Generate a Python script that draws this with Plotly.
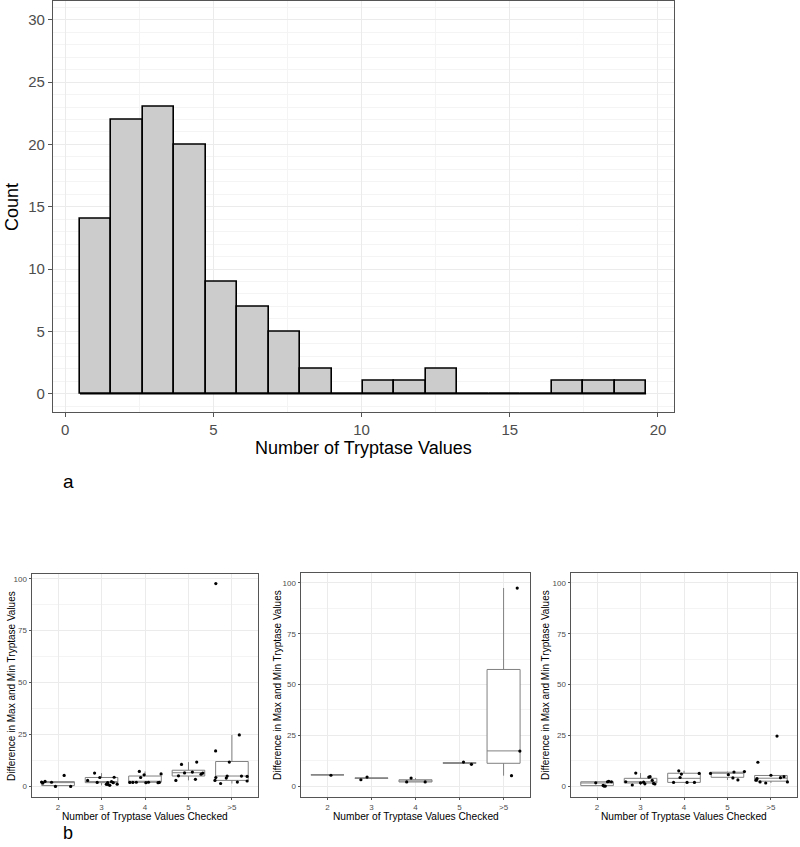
import plotly.graph_objects as go

# ---------------- data: panel a (histogram) ----------------
hist_counts = [14, 22, 23, 20, 9, 7, 5, 2, 0, 1, 1, 2, 0, 0, 0, 1, 1, 1]
hist_start = 0.5
hist_binwidth = 1.061

# ---------------- data: panel b ----------------
categories = ["2", "3", "4", "5", ">5"]
y_ticks_b = [0, 25, 50, 75, 100]

# left panel
p1_cat = [0]*7 + [1]*12 + [2]*11 + [3]*9 + [4]*13
p1_jit = [-0.38, -0.35, -0.30, -0.15, -0.06, 0.14, 0.29,
          -0.32, -0.16, -0.10, -0.04, 0.11, 0.14, 0.16, 0.19, 0.23, 0.27, 0.29, 0.36,
          -0.35, -0.28, -0.20, -0.13, -0.10, -0.02, 0.02, 0.08, 0.30, 0.33, 0.37,
          -0.29, -0.23, -0.16, -0.09, 0.09, 0.16, 0.19, 0.29, 0.33,
          -0.375, -0.37, -0.39, -0.37, -0.26, -0.13, -0.11, -0.06, 0.125, 0.17, 0.22, 0.35, 0.35]
p1_val = [2.1, 1.6, 2.4, 2.0, 0.0, 5.3, 0.0,
          2.9, 6.4, 1.9, 4.3, 1.0, 1.8, 0.8, 0.5, 2.3, 1.8, 4.4, 1.1,
          1.9, 1.9, 2.0, 7.2, 4.3, 5.6, 1.8, 2.0, 1.8, 1.9, 6.0,
          2.9, 5.1, 10.6, 6.5, 6.9, 3.4, 11.7, 5.9, 6.4,
          17.1, 97.7, 2.9, 4.3, 1.4, 4.0, 5.0, 11.7, 2.1, 24.8, 5.0, 2.6, 4.8]
p1_q1 = [0.4, 1.8, 2.0, 5.0, 2.9]
p1_med = [1.9, 2.3, 2.4, 6.6, 5.0]
p1_q3 = [2.3, 4.3, 5.0, 7.8, 12.0]
p1_lo = [0.0, 0.5, 1.8, 2.9, 1.4]
p1_hi = [2.4, 6.4, 7.2, 11.7, 24.8]

# middle panel
p2_cat = [0, 1, 1, 2, 2, 2, 3, 3, 4, 4, 4]
p2_jit = [0.08, -0.24, -0.10, -0.20, -0.10, 0.22, 0.09, 0.27, 0.18, 0.37, 0.31]
p2_val = [5.3, 3.1, 4.4, 2.0, 3.9, 2.0, 11.8, 10.7, 5.1, 17.2, 97.5]
p2_q1 = [5.5, 3.8, 2.0, 11.2, 11.2]
p2_med = [5.5, 3.9, 2.0, 11.3, 17.3]
p2_q3 = [5.5, 4.0, 3.1, 11.5, 57.4]
p2_lo = [5.5, 3.8, 2.0, 11.2, 5.1]
p2_hi = [5.5, 4.0, 3.9, 11.5, 97.5]

# right panel
p3_cat = [0]*7 + [1]*11 + [2]*7 + [3]*6 + [4]*10
p3_jit = [-0.03, 0.14, 0.16, 0.19, 0.24, 0.27, 0.33,
          -0.34, -0.19, -0.11, 0.00, 0.07, 0.10, 0.19, 0.22, 0.27, 0.30, 0.33,
          -0.24, -0.12, -0.09, -0.06, 0.07, 0.24, 0.35,
          -0.39, 0.02, 0.125, 0.15, 0.24, 0.39,
          -0.30, 0.14, -0.32, -0.34, -0.25, -0.12, 0.00, 0.22, 0.30, 0.38]
p3_val = [1.6, 0.3, 0.0, 0.0, 2.1, 2.3, 2.1,
          2.1, 0.5, 6.4, 1.6, 1.9, 1.1, 4.4, 4.6, 2.8, 1.3, 1.0,
          1.8, 7.5, 4.2, 5.9, 1.8, 1.8, 6.2,
          6.2, 5.6, 4.0, 6.9, 3.0, 7.1,
          11.7, 24.6, 3.6, 2.9, 2.0, 1.5, 5.3, 4.1, 4.6, 2.0]
p3_q1 = [0.2, 1.5, 1.8, 4.3, 2.4]
p3_med = [1.5, 2.1, 3.8, 6.3, 3.85]
p3_q3 = [2.1, 3.8, 6.3, 6.8, 5.2]
p3_lo = [0.0, 0.5, 1.8, 3.0, 1.5]
p3_hi = [2.3, 6.4, 7.5, 7.1, 5.3]

# ---------------- layout helpers ----------------
W, H = 800, 847
def px(x):
    return x / W
def py(y):
    return 1 - y / H

FONT = "Liberation Sans, Arial, sans-serif"
GRID = "#ebebeb"
MINOR = "#f4f4f4"
FRAME = "#555555"
TICKC = "#555555"

fig = go.Figure()

# histogram bars
centers = [hist_start + hist_binwidth * (i + 0.5) for i in range(len(hist_counts))]
fig.add_trace(go.Bar(x=centers, y=hist_counts, width=hist_binwidth,
                     marker=dict(color="#cccccc", line=dict(color="black", width=1.6)),
                     xaxis="x", yaxis="y", showlegend=False, hoverinfo="skip"))
edge_end = hist_start + hist_binwidth * len(hist_counts)
fig.add_trace(go.Scatter(x=[hist_start, edge_end], y=[0, 0], mode="lines",
                         line=dict(color="black", width=1.6),
                         xaxis="x", yaxis="y", showlegend=False, hoverinfo="skip"))

panels = [
    (p1_cat, p1_jit, p1_val, p1_q1, p1_med, p1_q3, p1_lo, p1_hi, "x2", "y2"),
    (p2_cat, p2_jit, p2_val, p2_q1, p2_med, p2_q3, p2_lo, p2_hi, "x3", "y3"),
    (p3_cat, p3_jit, p3_val, p3_q1, p3_med, p3_q3, p3_lo, p3_hi, "x4", "y4"),
]
for cat, jit, val, q1, med, q3, lo, hi, xa, ya in panels:
    fig.add_trace(go.Box(x=list(range(len(categories))), q1=q1, median=med, q3=q3,
                         lowerfence=lo, upperfence=hi, width=0.75, whiskerwidth=0,
                         fillcolor="white", line=dict(color="#808080", width=1),
                         boxpoints=False, xaxis=xa, yaxis=ya, showlegend=False,
                         hoverinfo="skip"))
    fig.add_trace(go.Scatter(x=[c + j for c, j in zip(cat, jit)], y=val, mode="markers",
                             marker=dict(color="black", size=3.2),
                             xaxis=xa, yaxis=ya, showlegend=False, hoverinfo="skip"))

def frame_axis(**kw):
    d = dict(showline=True, mirror=True, linecolor=FRAME, linewidth=1.3,
             ticks="outside", ticklen=3, tickcolor=TICKC, tickwidth=1,
             showgrid=True, gridcolor=GRID, gridwidth=1, zeroline=False,
             tickfont=dict(family=FONT, color="#4d4d4d"), fixedrange=True)
    d.update(kw)
    return d

layout = dict(
    width=W, height=H, margin=dict(l=0, r=0, t=0, b=0),
    paper_bgcolor="white", plot_bgcolor="white", showlegend=False,
    font=dict(family=FONT),
    bargap=0,
    xaxis=frame_axis(domain=[px(53), px(674)], range=[-0.41, 20.54], tickvals=[0, 5, 10, 15, 20],
                     tickfont=dict(family=FONT, size=15, color="#4d4d4d"), ticklen=4,
                     minor=dict(dtick=2.5, tick0=0, showgrid=True, gridcolor=MINOR, ticklen=0),
                     anchor="y"),
    yaxis=frame_axis(domain=[py(412), py(0.8)], range=[-1.47, 31.52], tickvals=[0, 5, 10, 15, 20, 25, 30],
                     tickfont=dict(family=FONT, size=15, color="#4d4d4d"), ticklen=4,
                     minor=dict(dtick=1, tick0=0, showgrid=True, gridcolor=MINOR, ticklen=0),
                     anchor="x"),
)

bottom = [("xaxis2", "yaxis2", "x2", "y2", 32, 258, 574, [-5.1, 102.3]),
          ("xaxis3", "yaxis3", "x3", "y3", 301, 530, 573, [-5.4, 104.9]),
          ("xaxis4", "yaxis4", "x4", "y4", 571, 797, 573, [-5.4, 104.9])]
for xk, yk, xs, ys, l, r, t, yr in bottom:
    layout[xk] = frame_axis(domain=[px(l), px(r)], range=[-0.6, 4.6],
                            tickvals=list(range(len(categories))), ticktext=categories,
                            tickfont=dict(family=FONT, size=8, color="#4d4d4d"),
                            ticklen=2, anchor=ys, linewidth=1)
    layout[yk] = frame_axis(domain=[py(797), py(t)], range=yr, tickvals=y_ticks_b,
                            tickfont=dict(family=FONT, size=8, color="#4d4d4d"),
                            ticklen=2.5, anchor=xs, linewidth=1,
                            minor=dict(dtick=12.5, tick0=0, showgrid=True, gridcolor=MINOR, ticklen=0))

fig.update_layout(**layout)

ann = []
ann.append(dict(text="Count", x=px(12), y=py(207), textangle=-90, font=dict(size=18, color="black")))
ann.append(dict(text="Number of Tryptase Values", x=px(363.5), y=py(448), font=dict(size=18, color="black")))
ann.append(dict(text="a", x=px(68), y=py(481), font=dict(size=19, color="black")))
ann.append(dict(text="b", x=px(68), y=py(833), font=dict(size=18, color="black")))
for cx in [145, 415.5, 684]:
    ann.append(dict(text="Number of Tryptase Values Checked", x=px(cx), y=py(816),
                    font=dict(size=10.2, color="black")))
for tx, cy in [(11, 686), (277, 685), (545, 685)]:
    ann.append(dict(text="Difference in Max and Min Tryptase Values", x=px(tx), y=py(cy),
                    textangle=-90, font=dict(size=10, color="black")))
for a in ann:
    a.update(xref="paper", yref="paper", showarrow=False, xanchor="center", yanchor="middle")
    a["font"]["family"] = FONT
fig.update_layout(annotations=ann)

fig.write_html("out.html", config={"displayModeBar": False},
               post_script="document.body.style.margin='0';document.body.style.padding='0';document.body.style.overflow='hidden';")
